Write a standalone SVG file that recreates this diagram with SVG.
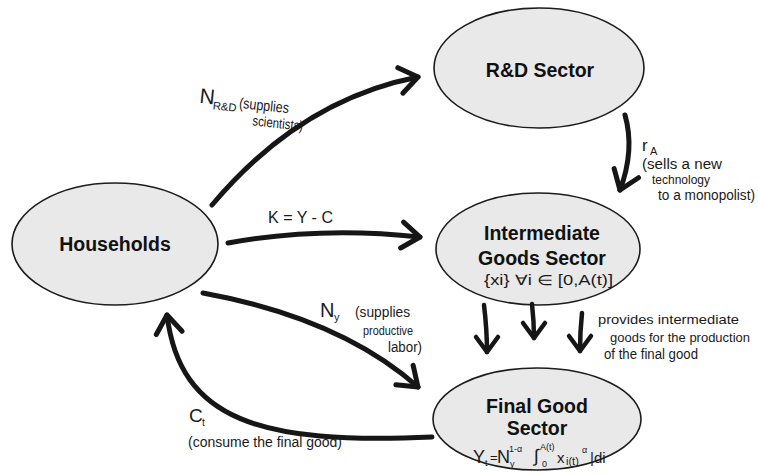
<svg xmlns="http://www.w3.org/2000/svg" width="758" height="474" viewBox="0 0 758 474">
<style>
.node ellipse{fill:#e9e9e9;stroke:#1c1c1c;stroke-width:1.6}
.nl{font-family:"Liberation Sans",Arial,sans-serif;font-weight:bold;font-size:19.5px;fill:#111;text-anchor:middle}
.hw{font-family:"Liberation Sans Narrow","Liberation Sans",Arial,sans-serif;font-size:14px;fill:#1a1a1a}
.arr{fill:none;stroke:#161616;stroke-width:5;stroke-linecap:round}
.big{marker-end:url(#head)}
.small{stroke-width:4.5;marker-end:url(#headS)}
</style>
<defs>
<marker id="head" markerUnits="userSpaceOnUse" markerWidth="40" markerHeight="40" viewBox="-30 -20 40 40" refX="0" refY="0" orient="auto" overflow="visible">
<path d="M-18,-13 L0,0 L-18,13" fill="none" stroke="#161616" stroke-width="5" stroke-linecap="round" stroke-linejoin="round"/>
</marker>
<marker id="headS" markerUnits="userSpaceOnUse" markerWidth="40" markerHeight="40" viewBox="-30 -20 40 40" refX="0" refY="0" orient="auto" overflow="visible">
<path d="M-15,-11 L0,0 L-15,11" fill="none" stroke="#161616" stroke-width="4.5" stroke-linecap="round" stroke-linejoin="round"/>
</marker>
</defs>

<g id="rd" class="node">
<ellipse cx="539" cy="68" rx="105" ry="60"/>
<text class="nl" x="540" y="77">R&amp;D Sector</text>
</g>
<g id="households" class="node">
<ellipse cx="115" cy="244" rx="103" ry="61"/>
<text class="nl" x="115" y="251">Households</text>
</g>
<g id="intermediate" class="node">
<ellipse cx="538" cy="249" rx="102" ry="56"/>
<text class="nl" x="542" y="240">Intermediate</text>
<text class="nl" x="542" y="265">Goods Sector</text>
<text class="hw" x="484" y="285" font-size="15" textLength="129" lengthAdjust="spacingAndGlyphs">{xi} ∀i ∈ [0,A(t)]</text>
</g>
<g id="final" class="node">
<ellipse cx="537" cy="419" rx="104" ry="51"/>
<text class="nl" x="537" y="413">Final Good</text>
<text class="nl" x="537" y="435">Sector</text>
<text class="hw"><tspan x="473" y="463" font-size="18">Y</tspan><tspan x="485" y="466" font-size="9">t</tspan><tspan x="490" y="462" font-size="13">=</tspan><tspan x="497" y="463" font-size="18">N</tspan><tspan x="510" y="467" font-size="9">y</tspan><tspan x="509" y="452" font-size="9">1-α</tspan><tspan x="534" y="462" font-size="18">∫</tspan><tspan x="542" y="467" font-size="9">0</tspan><tspan x="540" y="450" font-size="9">A(t)</tspan><tspan x="557" y="463" font-size="15">x</tspan><tspan x="566" y="465" font-size="11">i(t)</tspan><tspan x="582" y="453" font-size="9">α</tspan><tspan x="590" y="463" font-size="15">|di</tspan></text>
</g>

<g id="connectors">
<path class="arr big" d="M212,205 Q300,100 418,77"/>
<path class="arr big" d="M228,243 Q320,226 420,237"/>
<path class="arr big" d="M203,293 Q340,318 418,387"/>
<path class="arr big" d="M432,437 C260,445 180,420 167,315"/>
<path class="arr big" d="M625,115 Q635,150 620,190"/>
<path class="arr small" d="M484,305 Q487,330 487,352"/>
<path class="arr small" d="M532,304 Q534,322 534,338"/>
<path class="arr small" d="M582,313 Q580,332 580,351"/>
</g>

<g id="labels" class="hw">
<g transform="rotate(6 240 105)">
<text x="199" y="107" font-size="21">N</text>
<text x="213" y="112" font-size="11" textLength="24" lengthAdjust="spacingAndGlyphs">R&amp;D</text>
<text x="239" y="108" font-size="15" textLength="50" lengthAdjust="spacingAndGlyphs">(supplies</text>
<text x="254" y="124" font-size="14" textLength="51" lengthAdjust="spacingAndGlyphs">scientists)</text>
</g>
<text x="268" y="223" font-size="17" textLength="65" lengthAdjust="spacingAndGlyphs">K = Y - C</text>
<text x="642" y="151" font-size="17">r</text>
<text x="650" y="155" font-size="11">A</text>
<text x="642" y="169" font-size="14" textLength="80" lengthAdjust="spacingAndGlyphs">(sells a new</text>
<text x="652" y="184" font-size="13" textLength="58" lengthAdjust="spacingAndGlyphs">technology</text>
<text x="658" y="200" font-size="14" textLength="97" lengthAdjust="spacingAndGlyphs">to a monopolist)</text>
<text x="320" y="317" font-size="20">N</text>
<text x="334" y="321" font-size="11">y</text>
<text x="355" y="317" font-size="15" textLength="55" lengthAdjust="spacingAndGlyphs">(supplies</text>
<text x="363" y="335" font-size="12" textLength="50" lengthAdjust="spacingAndGlyphs">productive</text>
<text x="388" y="352" font-size="14" textLength="34" lengthAdjust="spacingAndGlyphs">labor)</text>
<text x="598" y="324" font-size="13" textLength="141" lengthAdjust="spacingAndGlyphs">provides intermediate</text>
<text x="610" y="342" font-size="12" textLength="140" lengthAdjust="spacingAndGlyphs">goods for the production</text>
<text x="604" y="359" font-size="14" textLength="94" lengthAdjust="spacingAndGlyphs">of the final good</text>
<text x="189" y="422" font-size="19">C</text>
<text x="202" y="426" font-size="10">t</text>
<text x="188" y="447" font-size="14" textLength="154" lengthAdjust="spacingAndGlyphs">(consume the final good)</text>
</g>
</svg>
